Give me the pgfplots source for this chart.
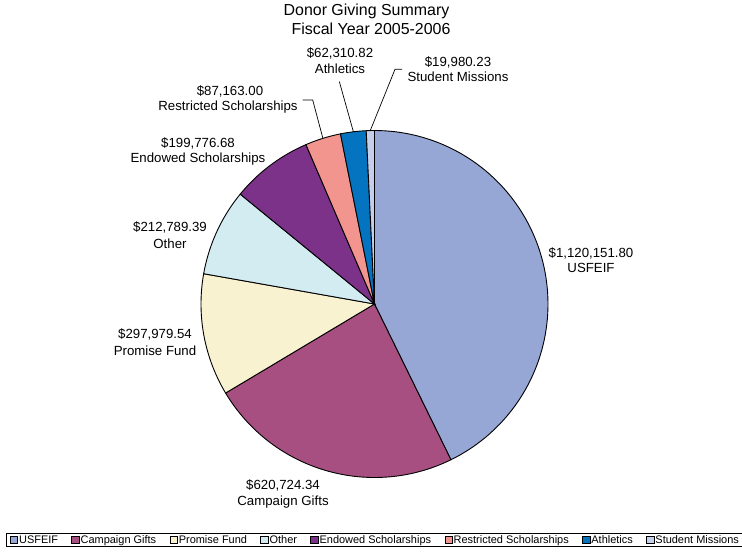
\documentclass[border=0pt]{standalone}
\usepackage{fontspec}
\setmainfont{Liberation Sans}
\usepackage{pgfplots}
\pgfplotsset{compat=1.18}

% slice values (USD)
\def\vA{1120151.80}% USFEIF
\def\vB{620724.34}%  Campaign Gifts
\def\vC{297979.54}%  Promise Fund
\def\vD{212789.39}%  Other
\def\vE{199776.68}%  Endowed Scholarships
\def\vF{87163.00}%   Restricted Scholarships
\def\vG{62310.82}%   Athletics
\def\vH{19980.23}%   Student Missions
\edef\tot{\fpeval{\vA+\vB+\vC+\vD+\vE+\vF+\vG+\vH}}
\edef\cA{\fpeval{round(360*(\vA)/\tot,4)}}
\edef\cB{\fpeval{round(360*(\vA+\vB)/\tot,4)}}
\edef\cC{\fpeval{round(360*(\vA+\vB+\vC)/\tot,4)}}
\edef\cD{\fpeval{round(360*(\vA+\vB+\vC+\vD)/\tot,4)}}
\edef\cE{\fpeval{round(360*(\vA+\vB+\vC+\vD+\vE)/\tot,4)}}
\edef\cF{\fpeval{round(360*(\vA+\vB+\vC+\vD+\vE+\vF)/\tot,4)}}
\edef\cG{\fpeval{round(360*(\vA+\vB+\vC+\vD+\vE+\vF+\vG)/\tot,4)}}

\definecolor{cA}{RGB}{150,166,213}
\definecolor{cB}{RGB}{166,79,128}
\definecolor{cC}{RGB}{248,242,208}
\definecolor{cD}{RGB}{211,236,241}
\definecolor{cE}{RGB}{124,50,136}
\definecolor{cF}{RGB}{243,149,143}
\definecolor{cG}{RGB}{4,116,192}
\definecolor{cH}{RGB}{197,207,235}

\def\cx{374.5}
\def\cy{304}
\def\rr{173.5}

\begin{document}
\begin{tikzpicture}
\useasboundingbox (0,0) rectangle (742bp,556bp);
\begin{axis}[
  at={(0,0)}, anchor=south west,
  width=742bp, height=556bp, scale only axis,
  xmin=0, xmax=742, ymin=0, ymax=556, y dir=reverse,
  hide axis, clip=false, enlargelimits=false,
  legend columns=8,
  legend style={at={(axis cs:375,540)}, anchor=center, draw=black, line width=0.8bp,
    font=\fontsize{11}{12}\selectfont, inner xsep=4bp, inner ysep=1bp,
    nodes={inner xsep=1.2bp, inner ysep=0.6bp},
    /tikz/every even column/.append style={column sep=12.2bp}},
  pie/.style={draw=black, line width=0.9bp, samples=90, variable=\t,
    legend image code/.code={\draw[##1, draw=black, line width=0.6bp] (0bp,-3.7bp) rectangle (7.4bp,3.7bp);}},
]
\addplot[pie, fill=cA, domain=0:\cA] ({\cx+\rr*sin(\t)},{\cy-\rr*cos(\t)}) -- (axis cs:\cx,\cy) -- cycle;
\addlegendentry{USFEIF}
\addplot[pie, fill=cB, domain=\cA:\cB] ({\cx+\rr*sin(\t)},{\cy-\rr*cos(\t)}) -- (axis cs:\cx,\cy) -- cycle;
\addlegendentry{Campaign Gifts}
\addplot[pie, fill=cC, domain=\cB:\cC] ({\cx+\rr*sin(\t)},{\cy-\rr*cos(\t)}) -- (axis cs:\cx,\cy) -- cycle;
\addlegendentry{Promise Fund}
\addplot[pie, fill=cD, domain=\cC:\cD] ({\cx+\rr*sin(\t)},{\cy-\rr*cos(\t)}) -- (axis cs:\cx,\cy) -- cycle;
\addlegendentry{Other}
\addplot[pie, fill=cE, domain=\cD:\cE] ({\cx+\rr*sin(\t)},{\cy-\rr*cos(\t)}) -- (axis cs:\cx,\cy) -- cycle;
\addlegendentry{Endowed Scholarships}
\addplot[pie, fill=cF, domain=\cE:\cF] ({\cx+\rr*sin(\t)},{\cy-\rr*cos(\t)}) -- (axis cs:\cx,\cy) -- cycle;
\addlegendentry{Restricted Scholarships}
\addplot[pie, fill=cG, domain=\cF:\cG] ({\cx+\rr*sin(\t)},{\cy-\rr*cos(\t)}) -- (axis cs:\cx,\cy) -- cycle;
\addlegendentry{Athletics}
\addplot[pie, fill=cH, domain=\cG:360] ({\cx+\rr*sin(\t)},{\cy-\rr*cos(\t)}) -- (axis cs:\cx,\cy) -- cycle;
\addlegendentry{Student Missions}

% leader lines
\addplot[forget plot, black, line width=0.7bp] coordinates {(302.5,100) (312.7,100) (322.9,138.4)};
\addplot[forget plot, black, line width=0.7bp] coordinates {(339.3,81.5) (353.4,131.8)};
\addplot[forget plot, black, line width=0.7bp] coordinates {(402,69.3) (395,69.3) (370.3,130.5)};

% titles
\node[anchor=base, font=\fontsize{16}{18}\selectfont] at (axis cs:366.5,16) {Donor Giving Summary};
\node[anchor=base, font=\fontsize{16}{18}\selectfont] at (axis cs:371,35) {Fiscal Year 2005-2006};

% data labels
\tikzset{lbl/.style={anchor=base, font=\fontsize{13.3}{15}\selectfont, inner sep=0pt}}
\node[lbl] at (axis cs:591,257) {\$1,120,151.80};
\node[lbl] at (axis cs:591,272) {USFEIF};
\node[lbl] at (axis cs:283,489) {\$620,724.34};
\node[lbl] at (axis cs:283,505.5) {Campaign Gifts};
\node[lbl] at (axis cs:155,338) {\$297,979.54};
\node[lbl] at (axis cs:155,355) {Promise Fund};
\node[lbl] at (axis cs:170,231) {\$212,789.39};
\node[lbl] at (axis cs:170,248) {Other};
\node[lbl] at (axis cs:198,148) {\$199,776.68};
\node[lbl] at (axis cs:198,163) {Endowed Scholarships};
\node[lbl] at (axis cs:230,96) {\$87,163.00};
\node[lbl] at (axis cs:228,111) {Restricted Scholarships};
\node[lbl] at (axis cs:340,58) {\$62,310.82};
\node[lbl] at (axis cs:340,74) {Athletics};
\node[lbl] at (axis cs:458,67) {\$19,980.23};
\node[lbl] at (axis cs:458,82) {Student Missions};
\end{axis}
\end{tikzpicture}
\end{document}
